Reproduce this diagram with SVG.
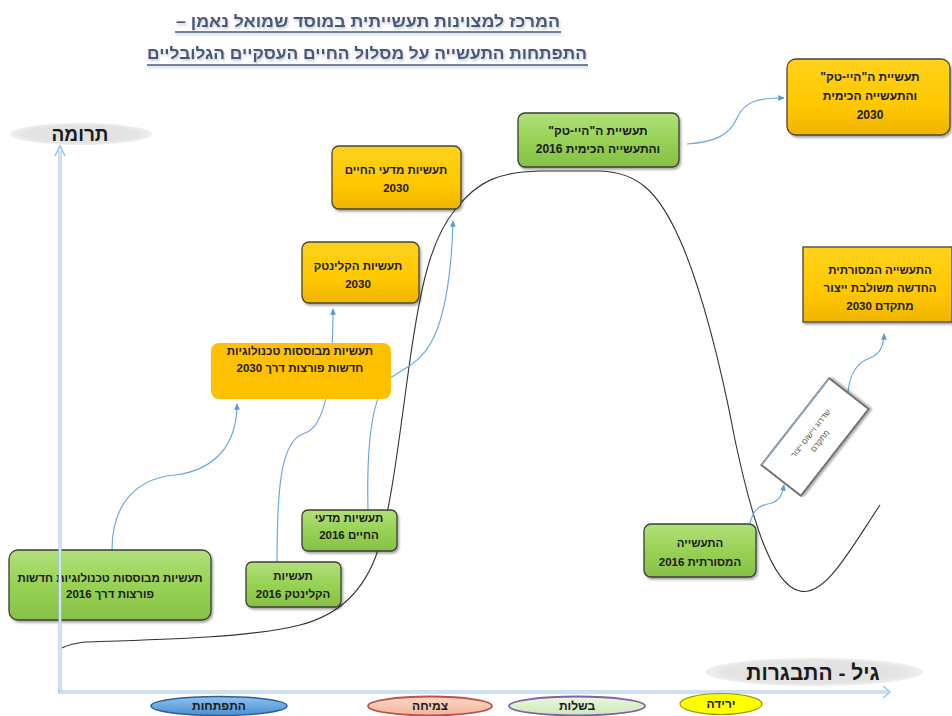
<svg xmlns="http://www.w3.org/2000/svg" width="952" height="716" viewBox="0 0 952 716">
<defs>
<linearGradient id="gG" x1="0" y1="0" x2="0" y2="1"><stop offset="0" stop-color="#b2e07a"/><stop offset="0.5" stop-color="#97d255"/><stop offset="1" stop-color="#86c046"/></linearGradient>
<linearGradient id="gY" x1="0" y1="0" x2="0" y2="1"><stop offset="0" stop-color="#ffd21c"/><stop offset="0.6" stop-color="#ffc800"/><stop offset="1" stop-color="#f0b400"/></linearGradient>
<linearGradient id="gBlue" x1="0" y1="0" x2="0" y2="1"><stop offset="0" stop-color="#8ec3f0"/><stop offset="1" stop-color="#4a8fd0"/></linearGradient>
<linearGradient id="gPink" x1="0" y1="0" x2="0" y2="1"><stop offset="0" stop-color="#fbd8c8"/><stop offset="1" stop-color="#f2b49a"/></linearGradient>
<linearGradient id="gLime" x1="0" y1="0" x2="0" y2="1"><stop offset="0" stop-color="#eaf6df"/><stop offset="1" stop-color="#cde8b8"/></linearGradient>
<radialGradient id="gGray" cx="0.5" cy="0.5" r="0.5"><stop offset="0" stop-color="#e0e0e0"/><stop offset="0.8" stop-color="#e4e4e4"/><stop offset="1" stop-color="#f0f0f0"/></radialGradient>
<filter id="sh" x="-10%" y="-10%" width="125%" height="130%"><feDropShadow dx="1.5" dy="2" stdDeviation="1.2" flood-color="#000" flood-opacity="0.35"/></filter>
<filter id="tsh" x="-5%" y="-20%" width="110%" height="160%"><feDropShadow dx="1" dy="2" stdDeviation="1" flood-color="#8a94aa" flood-opacity="0.5"/></filter>
<marker id="ar" viewBox="0 0 10 10" refX="8" refY="5" markerWidth="6" markerHeight="6" orient="auto"><path d="M0,1 L9,5 L0,9 Z" fill="#5b9bd5"/></marker>
</defs>
<style>
text{font-family:"Liberation Sans","DejaVu Sans",sans-serif;direction:rtl;unicode-bidi:embed;text-anchor:middle;fill:#1a1a1a;font-weight:bold}
.bx{font-size:11.5px}
.g{fill:url(#gG);stroke:#3a3f35;stroke-width:1.3}
.y{fill:url(#gY);stroke:#4a4535;stroke-width:1.3}
.ttl{font-size:16px;fill:#4a5878}
.ul{stroke:#4a5878;stroke-width:1.4}
.con{fill:none;stroke:#6fa8dc;stroke-width:1.2;marker-end:url(#ar)}
.ax{fill:none;stroke:#9dc3e6;stroke-width:3.2}
.axi{fill:none;stroke:#ffffff;stroke-width:1.1}
.ph{font-size:12px}
.st{font-size:12px}
</style>
<rect width="952" height="716" fill="#ffffff"/>

<g id="title" filter="url(#tsh)">
<text class="ttl" x="368" y="27" textLength="384" lengthAdjust="spacingAndGlyphs">המרכז למצוינות תעשייתית במוסד שמואל נאמן –</text>
<line class="ul" x1="175" y1="32" x2="561" y2="32"/>
<text class="ttl" x="367" y="59" textLength="440" lengthAdjust="spacingAndGlyphs">התפתחות התעשייה על מסלול החיים העסקיים הגלובליים</text>
<line class="ul" x1="147" y1="65" x2="588" y2="65"/>
</g>

<g id="axis-labels">
<ellipse cx="81" cy="134" rx="71" ry="11" fill="url(#gGray)"/>
<text x="80" y="141" font-size="19">תרומה</text>
<ellipse cx="814" cy="672" rx="109" ry="14" fill="url(#gGray)"/>
<text x="813" y="680" font-size="21">גיל - התבגרות</text>
</g>

<g id="lifecycle-curve">
<path d="M62,648 C70,644 75,643 85,642 C150,640 250,638 300,625 C340,615 365,590 378,550 C392,505 400,430 410,360 C420,290 430,240 455,210 C478,180 500,172 540,171 L600,171 C640,172 660,195 680,240 C700,285 720,360 735,440 C750,510 770,585 800,591 C825,597 850,550 880,505" fill="none" stroke="#333" stroke-width="1.1"/>
</g>

<g id="connectors">
<path class="con" d="M112,550 C112,500 140,478 175,475 C215,470 237,445 237,404"/>
<path class="con" d="M277,562 C277,480 282,440 305,433 C325,427 333,380 333,309"/>
<path class="con" d="M368,510 C366,430 375,385 395,375 C410,365 425,360 437,330 C448,300 452,260 453,221"/>
<path class="con" d="M687,144 C715,142 730,135 737,118 C745,100 760,98 784,98"/>
<path class="con" d="M750,523 C754,508 760,505 772,503 C780,500 782,495 784,485"/>
<path class="con" d="M848,392 C850,372 858,362 870,358 C880,354 884,345 884,334"/>
</g>

<g id="n-breakthrough-2016">
<rect class="g" x="9" y="550" width="202" height="70" rx="9" filter="url(#sh)"/>
<text class="bx" x="110" y="582">תעשיות מבוססות טכנולוגיות חדשות</text>
<text class="bx" x="110" y="598">פורצות דרך 2016</text>
</g>
<g id="n-cleantech-2016">
<rect class="g" x="246" y="562" width="95" height="45" rx="6" filter="url(#sh)"/>
<text class="bx" x="293" y="580">תעשיות</text>
<text class="bx" x="293" y="598">הקלינטק 2016</text>
</g>
<g id="n-lifesci-2016">
<rect class="g" x="302" y="510" width="95" height="41" rx="6" filter="url(#sh)"/>
<text class="bx" x="349" y="522">תעשיות מדעי</text>
<text class="bx" x="349" y="539">החיים 2016</text>
</g>
<g id="n-breakthrough-2030">
<rect x="211" y="343" width="180" height="56" rx="8" fill="#ffc000"/>
<text class="bx" x="300" y="355">תעשיות מבוססות טכנולוגיות</text>
<text class="bx" x="300" y="372">חדשות פורצות דרך 2030</text>
</g>
<g id="n-cleantech-2030">
<rect class="y" x="302" y="242" width="117" height="61" rx="7" filter="url(#sh)"/>
<text class="bx" x="358" y="270">תעשיות הקלינטק</text>
<text class="bx" x="358" y="288">2030</text>
</g>
<g id="n-lifesci-2030">
<rect class="y" x="332" y="146" width="129" height="63" rx="7" filter="url(#sh)"/>
<text class="bx" x="396" y="174">תעשיות מדעי החיים</text>
<text class="bx" x="396" y="192">2030</text>
</g>
<g id="n-hitech-2016">
<rect class="g" x="518" y="113" width="161" height="54" rx="7" filter="url(#sh)"/>
<text class="ph" x="598" y="135">תעשיית ה"היי-טק"</text>
<text class="ph" x="598" y="153">והתעשייה הכימית 2016</text>
</g>
<g id="n-hitech-2030">
<rect class="y" x="787" y="59" width="163" height="76" rx="9" filter="url(#sh)"/>
<text class="ph" x="870" y="81">תעשיית ה"היי-טק"</text>
<text class="ph" x="870" y="100">והתעשייה הכימית</text>
<text class="ph" x="870" y="119">2030</text>
</g>
<g id="n-traditional-2016">
<rect class="g" x="644" y="524" width="112" height="53" rx="7" filter="url(#sh)"/>
<text class="bx" x="700" y="547">התעשייה</text>
<text class="bx" x="700" y="566">המסורתית 2016</text>
</g>
<g id="n-upgrade">
<g transform="translate(815,437) rotate(-52)">
<rect x="-55" y="-25" width="110" height="50" fill="#ffffff" stroke="#707070" stroke-width="2" filter="url(#sh)"/>
<line x1="-55" y1="-25" x2="55" y2="-25" stroke="#8fb8e0" stroke-width="1"/>
<text x="0" y="-3" font-size="8" style="fill:#555;font-weight:normal">שדרוג ויישום ייצור</text>
<text x="0" y="9" font-size="8" style="fill:#555;font-weight:normal">מתקדם</text>
</g>
</g>
<g id="n-traditional-2030">
<rect x="803" y="247" width="149" height="75" fill="url(#gY)" stroke="#4a4535" stroke-width="1.3" filter="url(#sh)"/>
<text class="bx" x="880" y="274">התעשייה המסורתית</text>
<text class="bx" x="880" y="292">החדשה משולבת ייצור</text>
<text class="bx" x="880" y="310">מתקדם 2030</text>
</g>

<g id="axes">
<path class="ax" d="M60,692 L60,150"/>
<path class="axi" d="M60,692 L60,150"/>
<path d="M55,156 L60,146 L65,156" fill="none" stroke="#9dc3e6" stroke-width="1.5"/>
<path class="ax" d="M58.4,692 L888,692"/>
<path class="axi" d="M60,692 L888,692"/>
<path d="M883,686 L890,692 L883,698" fill="none" stroke="#9dc3e6" stroke-width="1.5"/>
</g>

<g id="stages">
<ellipse cx="219" cy="706" rx="68" ry="9.5" fill="url(#gBlue)" stroke="#2f5f95" stroke-width="1.5"/>
<text class="st" x="219" y="710">התפתחות</text>
<ellipse cx="430" cy="706" rx="62" ry="9.5" fill="url(#gPink)" stroke="#c0504d" stroke-width="1.8"/>
<text class="st" x="430" y="710">צמיחה</text>
<ellipse cx="577" cy="706" rx="68" ry="9.5" fill="url(#gLime)" stroke="#8064a2" stroke-width="1.8"/>
<text class="st" x="577" y="710">בשלות</text>
<ellipse cx="721" cy="704" rx="41" ry="10.5" fill="#ffff00" stroke="#9a9a00" stroke-width="1.2"/>
<text class="st" x="721" y="708">ירידה</text>
</g>
</svg>
